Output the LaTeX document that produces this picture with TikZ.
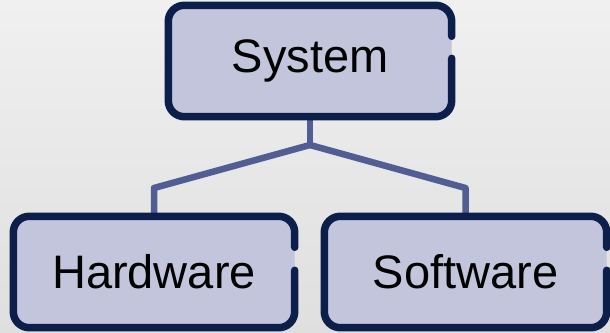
\documentclass[tikz,border=0pt]{standalone}
\usepackage{fontspec}
\setmainfont{Liberation Sans}
\usetikzlibrary{calc}
\definecolor{bordc}{HTML}{0C1F4A}
\definecolor{boxfill}{HTML}{C3C5DC}
\definecolor{linkc}{HTML}{515D93}
\definecolor{bgtop}{HTML}{F0F0F0}
\definecolor{bgbot}{HTML}{DFDFDF}
\tikzset{
  boxnode/.style={rectangle, rounded corners=16pt, fill=boxfill, inner sep=0pt,
    font=\fontsize{47}{50}\selectfont, text=black},
  bord/.style={draw=bordc, line width=7.5pt, line cap=round, rounded corners=16pt},
  link/.style={draw=linkc, line width=6.5pt, line join=round},
}
\newcommand\gapbox[3]{% name, gap top offset below north, gap bottom offset below north
  \draw[bord] ($(#1.north east)+(0,-#2)$) -- (#1.north east) -- (#1.north west)
    -- (#1.south west) -- (#1.south east) -- ($(#1.north east)+(0,-#3)$);
}
\begin{document}
\begin{tikzpicture}[x=1pt,y=1pt]
\useasboundingbox (0,0) rectangle (610,332);
\shade[top color=bgtop, bottom color=bgbot] (0,0) rectangle (610,332);
\node[boxnode, minimum width=283pt, minimum height=111pt] (sys) at (310,271) {\raisebox{-3pt}{System}};
\node[boxnode, minimum width=281pt, minimum height=111pt] (hw) at (154,60) {Hardware};
\node[boxnode, minimum width=282pt, minimum height=111pt] (sw) at (465.5,60) {Software};
\coordinate (j) at (310,187);
\coordinate (hl) at (154,144);
\coordinate (sl) at (465.5,144);
\draw[link] (sys.south) -- (j);
\draw[link] (j) -- (hl) -- (hw.north);
\draw[link] (j) -- (sl) -- (sw.north);
\gapbox{sys}{31}{53}
\gapbox{hw}{31}{54}
\gapbox{sw}{31}{54}
\end{tikzpicture}
\end{document}
